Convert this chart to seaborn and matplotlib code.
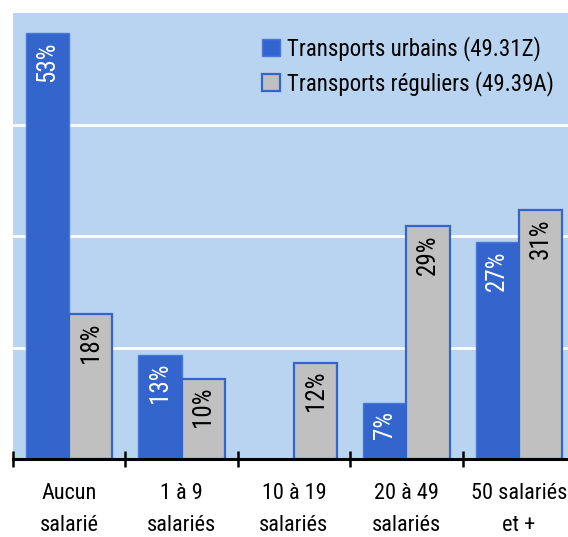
import pandas as pd
import matplotlib.pyplot as plt
import seaborn as sns
from matplotlib.patches import Patch

# Données
categories = ['Aucun\nsalarié', '1 à 9\nsalariés', '10 à 19\nsalariés', '20 à 49\nsalariés', '50 salariés\net +']
urbains = [53, 13, 0, 7, 27]
reguliers = [18, 10, 12, 29, 31]
series = ['Transports urbains (49.31Z)', 'Transports réguliers (49.39A)']

bleu = '#3365cc'
gris = '#c0c0c0'
fond = '#b8d4f0'

df = pd.DataFrame({
    'categorie': categories * 2,
    'serie': [series[0]] * len(categories) + [series[1]] * len(categories),
    'part': urbains + reguliers,
})

sns.set_style('white')
plt.rcParams['font.family'] = ['Roboto Condensed', 'DejaVu Sans']
plt.rcParams['text.color'] = 'black'
plt.rcParams['xtick.color'] = 'black'

fig = plt.figure(figsize=(5.68, 5.37), dpi=100)
ax = fig.add_axes([13 / 568, 78 / 537, 562 / 568, 446 / 537])
ax.set_facecolor(fond)

sns.barplot(data=df, x='categorie', y='part', hue='serie', palette=[bleu, gris],
            saturation=1, width=0.77, ax=ax, legend=False, zorder=3)

ymax = 55.5
ax.set_ylim(0, ymax)
ax.set_xlim(-0.5, len(categories) - 0.5)

# lignes horizontales blanches
for k in range(1, 4):
    ax.axhline(ymax / 4 * k, color='white', lw=2, zorder=1)

# bordures et étiquettes des barres
for i, cont in enumerate(ax.containers):
    for p in cont.patches:
        h = p.get_height()
        if h <= 0:
            p.set_linewidth(0)
            continue
        if i == 0:
            p.set_edgecolor('#4a78d6')
            p.set_linewidth(1)
            col = 'white'
        else:
            p.set_edgecolor(bleu)
            p.set_linewidth(1.6)
            col = 'black'
        ax.annotate(f'{h:.0f}%', (p.get_x() + p.get_width() / 2, h),
                    xytext=(0, -6), textcoords='offset points',
                    rotation=90, ha='center', va='top', fontsize=18, color=col, zorder=4)

for s in ['top', 'right', 'left']:
    ax.spines[s].set_visible(False)
ax.spines['bottom'].set_color('black')
ax.spines['bottom'].set_linewidth(2.2)
ax.spines['bottom'].set_zorder(5)

ax.set_yticks([])
ax.set_xlabel('')
ax.set_ylabel('')
ax.set_xticks(range(len(categories)))
ax.set_xticklabels(categories, fontsize=16, linespacing=1.72)
ax.tick_params(axis='x', which='major', bottom=True, length=0, pad=17)
ax.set_xticks([x - 0.5 for x in range(len(categories) + 1)], minor=True)
ax.tick_params(axis='x', which='minor', bottom=True, direction='inout', length=12, width=1.8, color='black')

handles = [Patch(facecolor=bleu, edgecolor='#4a78d6', lw=1),
           Patch(facecolor=gris, edgecolor=bleu, lw=1.6)]
fig.legend(handles, series, loc='upper left', bbox_to_anchor=(262 / 568, 501 / 537),
           frameon=False, fontsize=16.5, borderpad=0, borderaxespad=0,
           handlelength=0.8, handleheight=0.8, handletextpad=0.3, labelspacing=0.45)

plt.savefig('out.png', dpi=100)
plt.close()
